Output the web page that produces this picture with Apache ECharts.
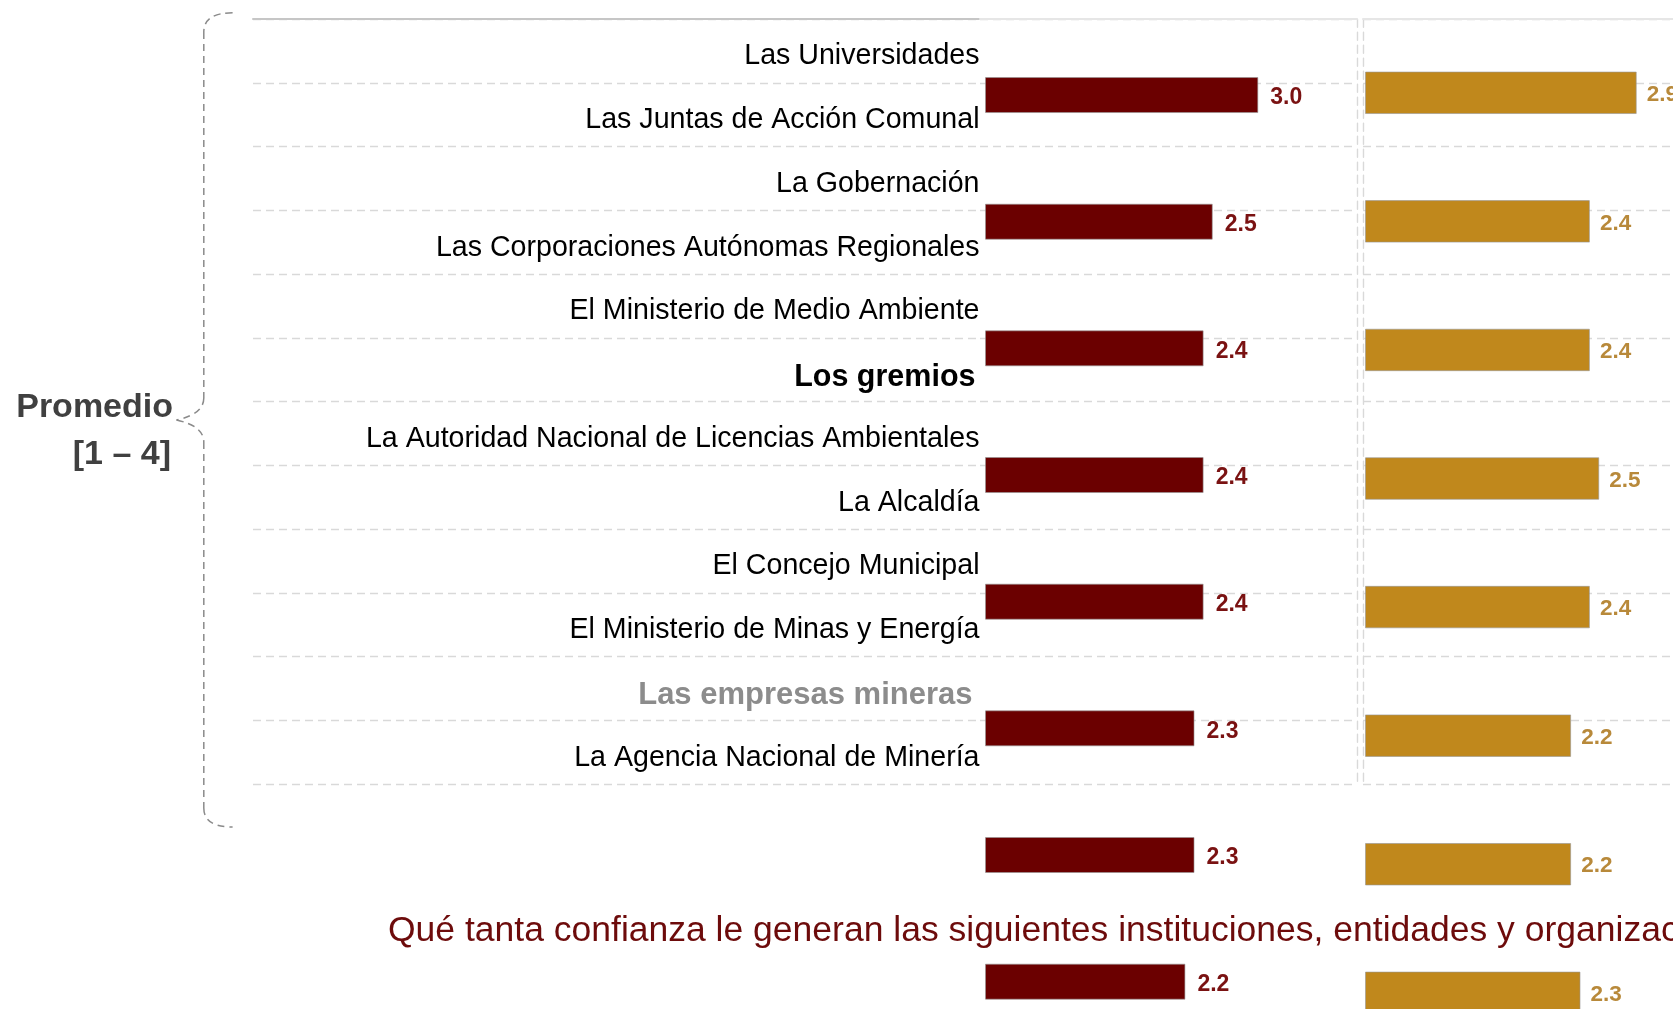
<!DOCTYPE html>
<html>
<head>
<meta charset="utf-8">
<title>Confianza en instituciones</title>
<script src="https://cdn.jsdelivr.net/npm/echarts@6/dist/echarts.min.js"></script>
<style>
  html, body { margin: 0; padding: 0; background: #fff; }
  #chart { width: 1673px; height: 1009px; }
</style>
</head>
<body>
<div id="chart"></div>
<script>
// institution rows (left panel, top to bottom)
const rowLabels = [
  'Las Universidades',
  'Las Juntas de Acción Comunal',
  'La Gobernación',
  'Las Corporaciones Autónomas Regionales',
  'El Ministerio de Medio Ambiente',
  'Los gremios',
  'La Autoridad Nacional de Licencias Ambientales',
  'La Alcaldía',
  'El Concejo Municipal',
  'El Ministerio de Minas y Energía',
  'Las empresas mineras',
  'La Agencia Nacional de Minería'
];

// bar rows of the two average panels
const barRows = ['1', '2', '3', '4', '5', '6', '7', '8'];
const promedioRojo = [3.0, 2.5, 2.4, 2.4, 2.4, 2.3, 2.3, 2.2];
const promedioOro = [2.9, 2.4, 2.4, 2.5, 2.4, 2.2, 2.2, 2.3];

const titleText = 'Qué tanta confianza le generan las siguientes instituciones, entidades y organizaciones';

const FONT = 'Liberation Sans';
const dashed = { type: [8, 5], color: '#d9d9d9', width: 1.4 };

const chart = echarts.init(document.getElementById('chart'));

// three boxes that carry the dashed row lines
const boxTop = 19.2, boxHeight = 765;
function boxY(idx, opts) {
  return Object.assign({
    type: 'category', gridIndex: idx, data: rowLabels, inverse: true,
    axisTick: { show: false }, axisLabel: { show: false },
    axisLine: { show: false },
    splitLine: { show: true, lineStyle: dashed }
  }, opts);
}
function boxX(idx, color) {
  return {
    type: 'value', gridIndex: idx, min: 0, max: 1, position: 'top',
    axisLine: { show: true, lineStyle: { color: color, width: 2 } },
    axisTick: { show: false }, axisLabel: { show: false }, splitLine: { show: false }
  };
}
function barX(idx) {
  return { type: 'value', gridIndex: idx, min: 0, max: 4, show: false };
}
function barY(idx) {
  return { type: 'category', gridIndex: idx, data: barRows, inverse: true, show: false };
}

// dashed curly brace next to "Promedio"
const braceStyle = { fill: 'none', stroke: '#8a8a8a', lineWidth: 1.5, lineDash: [7, 5] };
const bx = 203.8;
const brace = [
  { type: 'bezierCurve', shape: { x1: 232.6, y1: 12.8, x2: bx, y2: 32, cpx1: bx, cpy1: 12.8 } },
  { type: 'line', shape: { x1: bx, y1: 32, x2: bx, y2: 398 } },
  { type: 'bezierCurve', shape: { x1: bx, y1: 398, x2: 176.5, y2: 420, cpx1: bx, cpy1: 414 } },
  { type: 'bezierCurve', shape: { x1: 176.5, y1: 420, x2: bx, y2: 442, cpx1: bx, cpy1: 426 } },
  { type: 'line', shape: { x1: bx, y1: 442, x2: bx, y2: 808 } },
  { type: 'bezierCurve', shape: { x1: bx, y1: 808, x2: 232.6, y2: 827, cpx1: bx, cpy1: 827 } }
].map(el => Object.assign(el, { style: braceStyle, silent: true }));

const option = {
  animation: false,
  textStyle: { fontFamily: FONT },
  title: [
    {
      text: titleText, left: 388, top: 913, padding: 0,
      textStyle: { fontFamily: FONT, fontSize: 35.5, fontWeight: 'normal', color: '#6d0b0b' }
    },
    {
      text: 'Promedio', right: 1500, top: 391, padding: 0,
      textStyle: { fontFamily: FONT, fontSize: 34, fontWeight: 'bold', color: '#404040' }
    },
    {
      text: '[1 – 4]', right: 1502, top: 438, padding: 0,
      textStyle: { fontFamily: FONT, fontSize: 34, fontWeight: 'bold', color: '#404040' }
    }
  ],
  grid: [
    { left: 253, top: boxTop, width: 727, height: boxHeight, outerBoundsMode: 'none' },
    { left: 980, top: boxTop, width: 377, height: boxHeight, outerBoundsMode: 'none' },
    { left: 1363, top: boxTop, right: 0, height: boxHeight, outerBoundsMode: 'none' },
    { left: 985, top: 31.7, width: 364.4, height: 1013.3, outerBoundsMode: 'none' },
    { left: 1365, top: 28.5, width: 374.8, height: 1028.6, outerBoundsMode: 'none' }
  ],
  xAxis: [
    boxX(0, '#c6c6c6'), boxX(1, '#e6e6e6'), boxX(2, '#e6e6e6'),
    barX(3), barX(4)
  ],
  yAxis: [
    boxY(0, {
      position: 'left', offset: -726.5,
      axisLabel: {
        show: true, interval: 0, margin: 0, fontSize: 28.6, color: '#000',
        fontFamily: FONT, padding: [11, 0, 0, 0],
        formatter: function (v) {
          if (v === 'Los gremios') return '{g|' + v + '}';
          if (v === 'Las empresas mineras') return '{m|' + v + '}';
          return v;
        },
        rich: {
          g: { fontFamily: FONT, fontSize: 30.5, fontWeight: 'bold', color: '#000', padding: [4, 4, 0, 0] },
          m: { fontFamily: FONT, fontSize: 31, fontWeight: 'bold', color: '#8c8c8c', padding: [2, 7, 0, 0] }
        }
      }
    }),
    boxY(1, { position: 'right', axisLine: { show: true, onZero: false, lineStyle: dashed } }),
    boxY(2, { position: 'left', axisLine: { show: true, onZero: false, lineStyle: dashed } }),
    barY(3), barY(4)
  ],
  graphic: brace,
  series: [
    {
      type: 'bar', xAxisIndex: 3, yAxisIndex: 3, data: promedioRojo,
      barWidth: 36,
      itemStyle: { color: '#6b0000', borderColor: 'rgba(150,150,150,0.6)', borderWidth: 1 },
      label: {
        show: true, position: 'right', distance: 12, offset: [0, 3],
        formatter: p => p.value.toFixed(1),
        fontFamily: FONT, fontSize: 23, fontWeight: 'bold', color: '#7a1212'
      }
    },
    {
      type: 'bar', xAxisIndex: 4, yAxisIndex: 4, data: promedioOro,
      barWidth: 42.5,
      itemStyle: { color: '#c0881c', borderColor: 'rgba(150,150,150,0.6)', borderWidth: 1 },
      label: {
        show: true, position: 'right', distance: 10, offset: [0, 2],
        formatter: p => p.value.toFixed(1),
        fontFamily: FONT, fontSize: 22.5, fontWeight: 'bold', color: '#b8893a'
      }
    }
  ]
};

chart.setOption(option);
</script>
</body>
</html>
